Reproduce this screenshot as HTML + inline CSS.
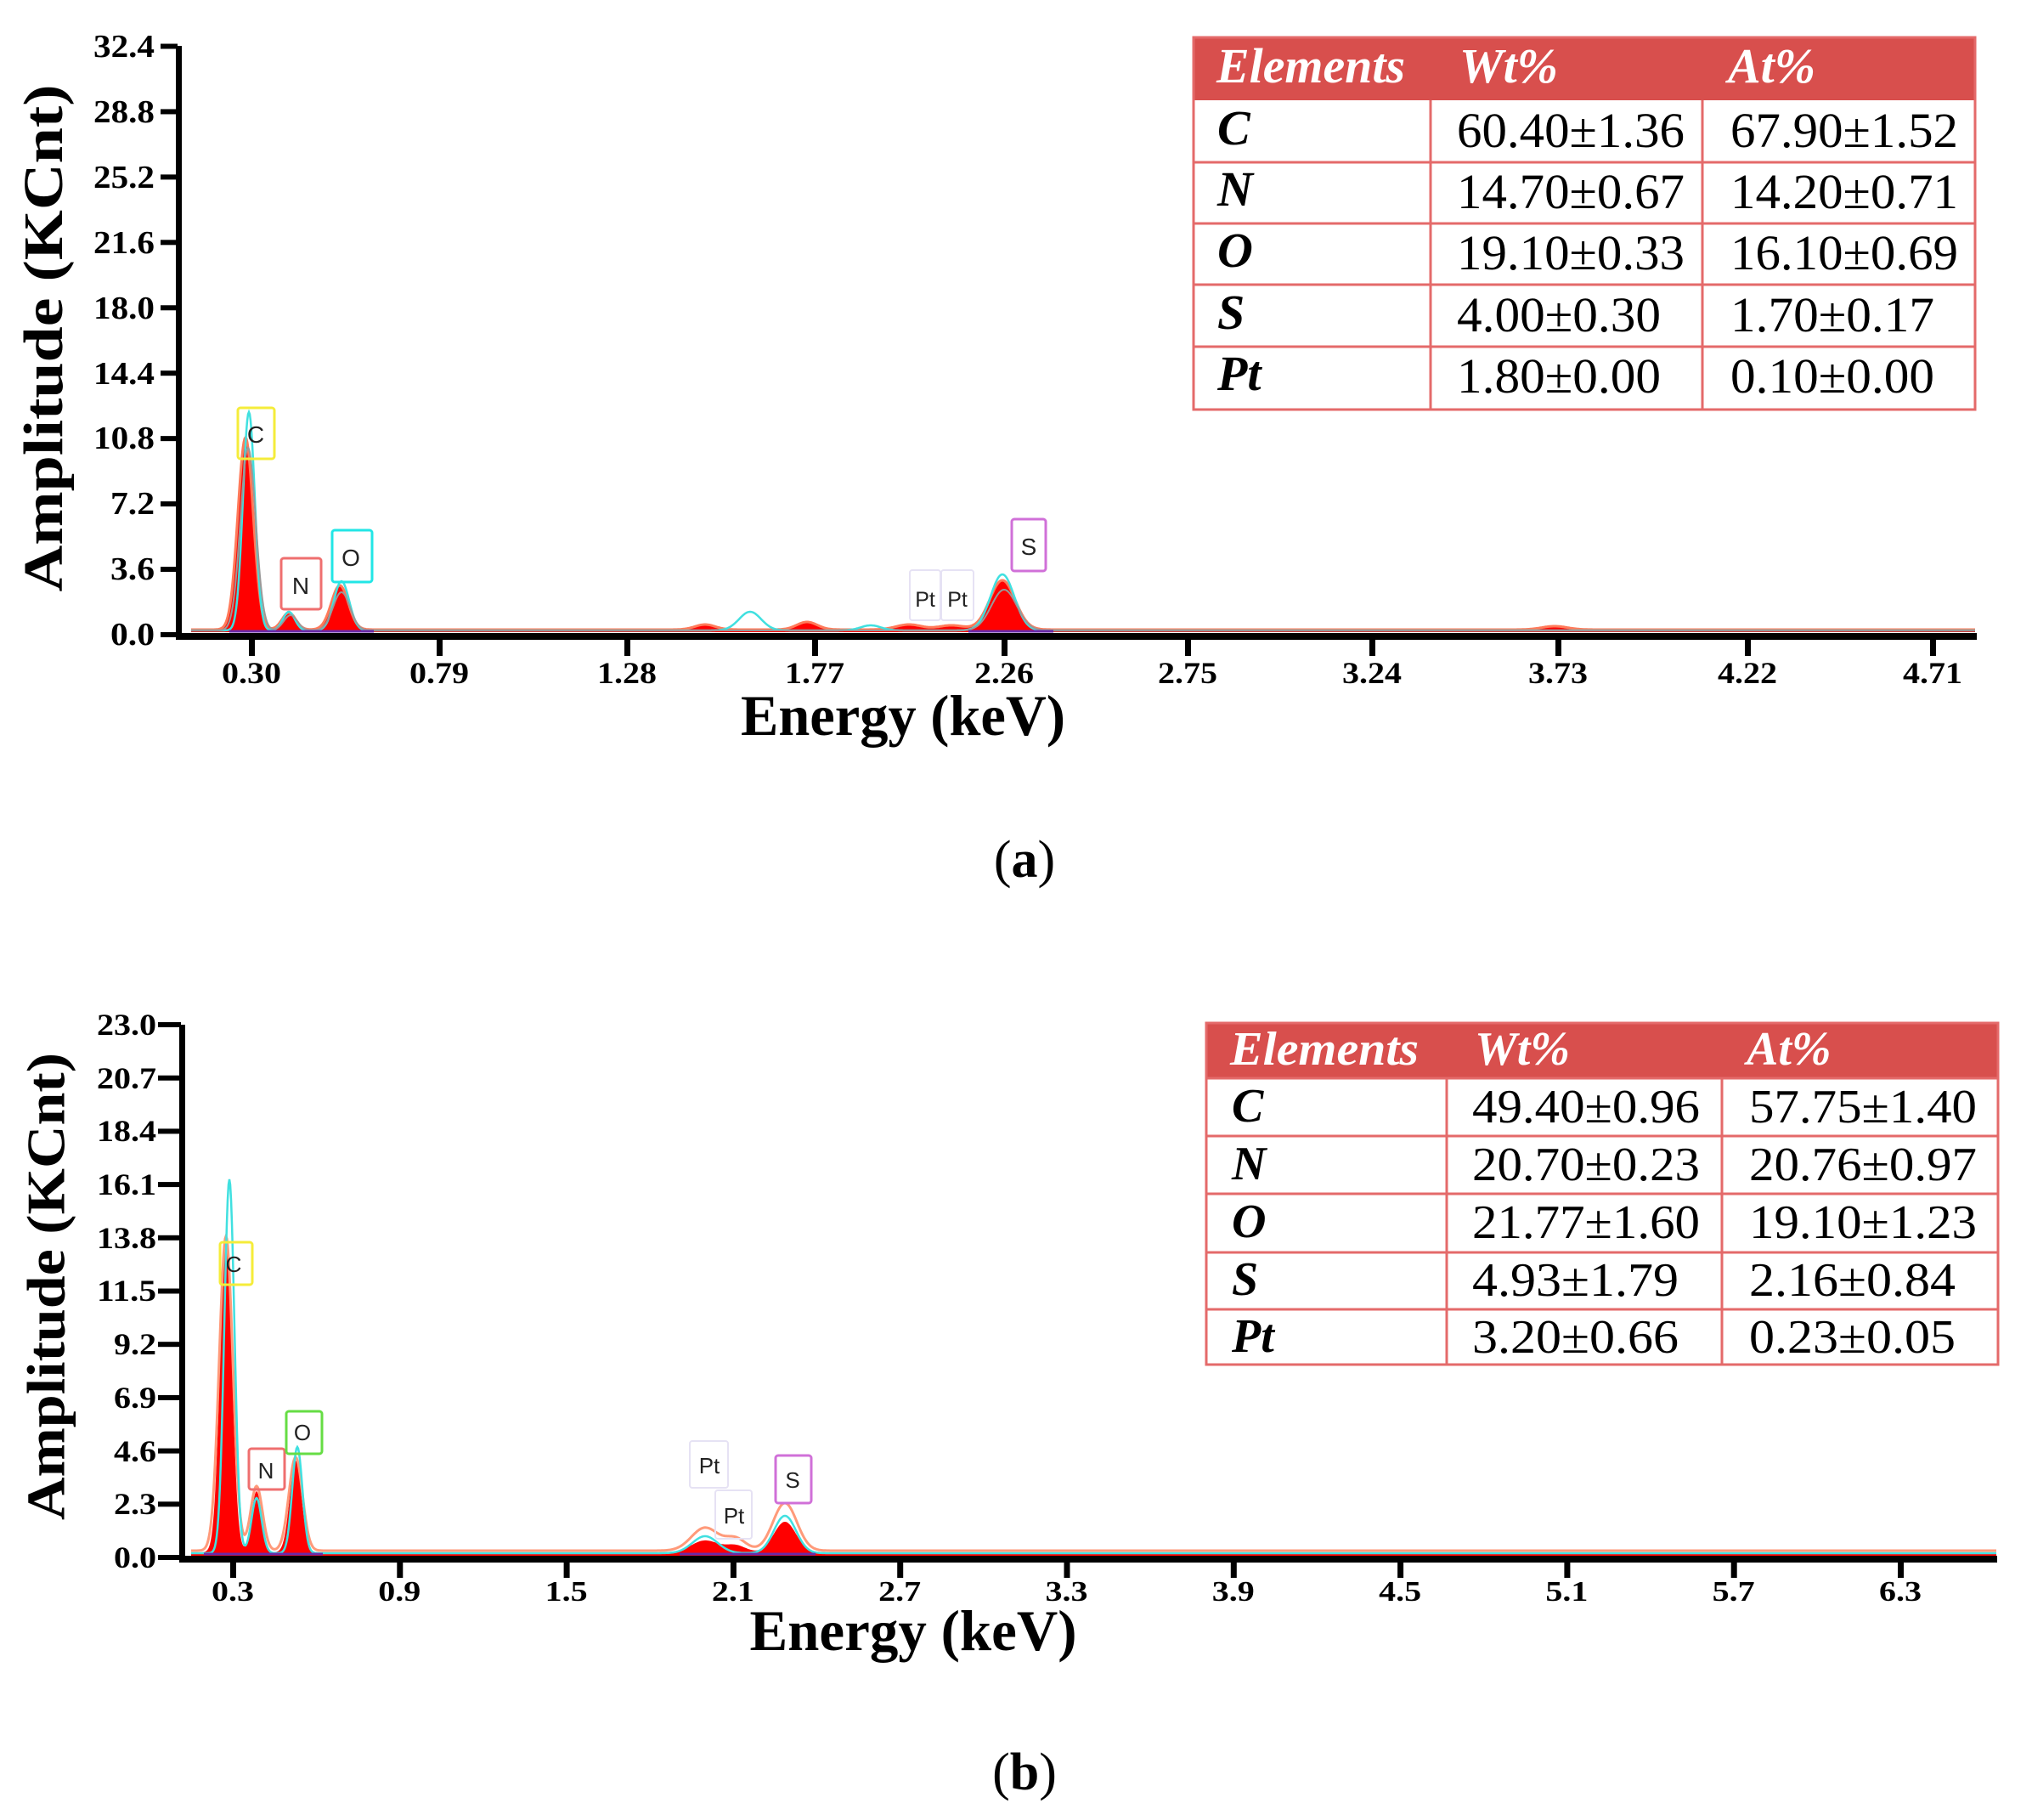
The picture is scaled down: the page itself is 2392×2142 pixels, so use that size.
<!DOCTYPE html>
<html><head><meta charset="utf-8"><style>
html,body{margin:0;padding:0;background:#fff;}
svg{display:block;}
text{font-family:"Liberation Serif",serif;}
text.sans{font-family:"Liberation Sans",sans-serif;}
</style></head><body>
<svg id="s" width="2392" height="2142" viewBox="0 0 2392 2142" xmlns="http://www.w3.org/2000/svg">
<g id="pa"></g>
<g id="pb"></g>
<!-- Panel a axes -->
<g fill="#000">
<rect x="207" y="54" width="7" height="698"/>
<rect x="207" y="745" width="2120" height="8"/>
</g>
<g font-weight="bold" font-size="38" text-anchor="end" fill="#000">
<text x="182" y="67" textLength="72" lengthAdjust="spacingAndGlyphs">32.4</text>
<text x="182" y="144" textLength="72" lengthAdjust="spacingAndGlyphs">28.8</text>
<text x="182" y="221" textLength="72" lengthAdjust="spacingAndGlyphs">25.2</text>
<text x="182" y="298" textLength="72" lengthAdjust="spacingAndGlyphs">21.6</text>
<text x="182" y="375" textLength="72" lengthAdjust="spacingAndGlyphs">18.0</text>
<text x="182" y="452" textLength="72" lengthAdjust="spacingAndGlyphs">14.4</text>
<text x="182" y="528" textLength="72" lengthAdjust="spacingAndGlyphs">10.8</text>
<text x="182" y="605" textLength="52" lengthAdjust="spacingAndGlyphs">7.2</text>
<text x="182" y="682" textLength="52" lengthAdjust="spacingAndGlyphs">3.6</text>
<text x="182" y="759" textLength="52" lengthAdjust="spacingAndGlyphs">0.0</text>
</g>
<g id="ayt"></g>
<g id="axt"></g>
<text x="58" y="398" font-weight="bold" font-size="66" fill="#000" text-anchor="middle" transform="rotate(-90 58 398)" dominant-baseline="middle" textLength="597" lengthAdjust="spacingAndGlyphs">Amplitude (KCnt)</text>
<text x="1063" y="865" font-weight="bold" font-size="68" fill="#000" text-anchor="middle" textLength="382" lengthAdjust="spacingAndGlyphs">Energy (keV)</text>
<text x="1206" y="1032" font-size="62" fill="#000" text-anchor="middle">(<tspan font-weight="bold">a</tspan>)</text>

<!-- Panel b axes -->
<g fill="#000">
<rect x="211" y="1206" width="7" height="632"/>
<rect x="211" y="1831" width="2140" height="8"/>
</g>
<g font-weight="bold" font-size="36" text-anchor="end" fill="#000">
<text x="184" y="1218" textLength="70" lengthAdjust="spacingAndGlyphs">23.0</text>
<text x="184" y="1281" textLength="70" lengthAdjust="spacingAndGlyphs">20.7</text>
<text x="184" y="1343" textLength="70" lengthAdjust="spacingAndGlyphs">18.4</text>
<text x="184" y="1406" textLength="70" lengthAdjust="spacingAndGlyphs">16.1</text>
<text x="184" y="1469" textLength="70" lengthAdjust="spacingAndGlyphs">13.8</text>
<text x="184" y="1531" textLength="70" lengthAdjust="spacingAndGlyphs">11.5</text>
<text x="184" y="1594" textLength="50" lengthAdjust="spacingAndGlyphs">9.2</text>
<text x="184" y="1657" textLength="50" lengthAdjust="spacingAndGlyphs">6.9</text>
<text x="184" y="1720" textLength="50" lengthAdjust="spacingAndGlyphs">4.6</text>
<text x="184" y="1782" textLength="50" lengthAdjust="spacingAndGlyphs">2.3</text>
<text x="184" y="1845" textLength="50" lengthAdjust="spacingAndGlyphs">0.0</text>
</g>
<g id="byt"></g>
<g id="bxt"></g>
<text x="61" y="1514" font-weight="bold" font-size="64" fill="#000" text-anchor="middle" transform="rotate(-90 61 1514)" dominant-baseline="middle" textLength="550" lengthAdjust="spacingAndGlyphs">Amplitude (KCnt)</text>
<text x="1075" y="1942" font-weight="bold" font-size="68" fill="#000" text-anchor="middle" textLength="385" lengthAdjust="spacingAndGlyphs">Energy (keV)</text>
<text x="1206" y="2106" font-size="62" fill="#000" text-anchor="middle">(<tspan font-weight="bold">b</tspan>)</text>

<!-- Table a -->
<g>
<rect x="1405" y="44" width="920" height="74" fill="#d84f4d"/>
<rect x="1405" y="44" width="920" height="438" fill="none" stroke="#e46a6a" stroke-width="3"/>
<g stroke="#e46a6a" stroke-width="3">
<line x1="1405" y1="191" x2="2325" y2="191"/><line x1="1405" y1="263" x2="2325" y2="263"/>
<line x1="1405" y1="335" x2="2325" y2="335"/><line x1="1405" y1="408" x2="2325" y2="408"/>
<line x1="1684" y1="118" x2="1684" y2="482"/><line x1="2004" y1="118" x2="2004" y2="482"/>
</g>
<g font-size="58" font-style="italic" font-weight="bold" fill="#fff">
<text x="1432" y="97" textLength="222" lengthAdjust="spacingAndGlyphs">Elements</text><text x="1718" y="97">Wt%</text><text x="2034" y="97">At%</text>
</g>
<g font-size="58" font-style="italic" font-weight="bold" fill="#000">
<text x="1433" y="170">C</text><text x="1433" y="242">N</text><text x="1433" y="314">O</text><text x="1433" y="387">S</text><text x="1433" y="459">Pt</text>
</g>
<g font-size="58" fill="#000">
<text x="1715" y="173" textLength="268" lengthAdjust="spacingAndGlyphs">60.40±1.36</text><text x="2037" y="173" textLength="268" lengthAdjust="spacingAndGlyphs">67.90±1.52</text>
<text x="1715" y="245" textLength="268" lengthAdjust="spacingAndGlyphs">14.70±0.67</text><text x="2037" y="245" textLength="268" lengthAdjust="spacingAndGlyphs">14.20±0.71</text>
<text x="1715" y="317" textLength="268" lengthAdjust="spacingAndGlyphs">19.10±0.33</text><text x="2037" y="317" textLength="268" lengthAdjust="spacingAndGlyphs">16.10±0.69</text>
<text x="1715" y="390" textLength="240" lengthAdjust="spacingAndGlyphs">4.00±0.30</text><text x="2037" y="390" textLength="240" lengthAdjust="spacingAndGlyphs">1.70±0.17</text>
<text x="1715" y="462" textLength="240" lengthAdjust="spacingAndGlyphs">1.80±0.00</text><text x="2037" y="462" textLength="240" lengthAdjust="spacingAndGlyphs">0.10±0.00</text>
</g>
</g>
<!-- Table b -->
<g>
<rect x="1420" y="1204" width="932" height="65" fill="#d84f4d"/>
<rect x="1420" y="1204" width="932" height="402" fill="none" stroke="#e46a6a" stroke-width="3"/>
<g stroke="#e46a6a" stroke-width="3">
<line x1="1420" y1="1269" x2="2352" y2="1269"/><line x1="1420" y1="1337" x2="2352" y2="1337"/>
<line x1="1420" y1="1405" x2="2352" y2="1405"/><line x1="1420" y1="1474" x2="2352" y2="1474"/>
<line x1="1420" y1="1541" x2="2352" y2="1541"/>
<line x1="1703" y1="1269" x2="1703" y2="1606"/><line x1="2027" y1="1269" x2="2027" y2="1606"/>
</g>
<g font-size="56" font-style="italic" font-weight="bold" fill="#fff">
<text x="1448" y="1253" textLength="222" lengthAdjust="spacingAndGlyphs">Elements</text><text x="1736" y="1253">Wt%</text><text x="2056" y="1253">At%</text>
</g>
<g font-size="56" font-style="italic" font-weight="bold" fill="#000">
<text x="1450" y="1320">C</text><text x="1450" y="1388">N</text><text x="1450" y="1456">O</text><text x="1450" y="1524">S</text><text x="1450" y="1591">Pt</text>
</g>
<g font-size="56" fill="#000">
<text x="1733" y="1321" textLength="268" lengthAdjust="spacingAndGlyphs">49.40±0.96</text><text x="2059" y="1321" textLength="268" lengthAdjust="spacingAndGlyphs">57.75±1.40</text>
<text x="1733" y="1389" textLength="268" lengthAdjust="spacingAndGlyphs">20.70±0.23</text><text x="2059" y="1389" textLength="268" lengthAdjust="spacingAndGlyphs">20.76±0.97</text>
<text x="1733" y="1457" textLength="268" lengthAdjust="spacingAndGlyphs">21.77±1.60</text><text x="2059" y="1457" textLength="268" lengthAdjust="spacingAndGlyphs">19.10±1.23</text>
<text x="1733" y="1525" textLength="243" lengthAdjust="spacingAndGlyphs">4.93±1.79</text><text x="2059" y="1525" textLength="243" lengthAdjust="spacingAndGlyphs">2.16±0.84</text>
<text x="1733" y="1592" textLength="243" lengthAdjust="spacingAndGlyphs">3.20±0.66</text><text x="2059" y="1592" textLength="243" lengthAdjust="spacingAndGlyphs">0.23±0.05</text>
</g>
</g>

<!-- element label boxes a -->
<g font-size="28" text-anchor="middle" fill="#222">
<rect x="280" y="480" width="43" height="60" fill="none" stroke="#f5ec3a" stroke-width="3" rx="3"/><text class="sans" x="301" y="521">C</text>
<rect x="331" y="657" width="47" height="60" fill="none" stroke="#ef6f6f" stroke-width="3" rx="3"/><text class="sans" x="354" y="699">N</text>
<rect x="391" y="624" width="47" height="61" fill="none" stroke="#22e6e6" stroke-width="3" rx="3"/><text class="sans" x="413" y="666">O</text>
<rect x="1071" y="671" width="36" height="59" fill="none" stroke="#e6e2f4" stroke-width="2" rx="3"/><text class="sans" x="1089" y="714" font-size="25">Pt</text>
<rect x="1108" y="671" width="38" height="59" fill="none" stroke="#e6e2f4" stroke-width="2" rx="3"/><text class="sans" x="1127" y="714" font-size="25">Pt</text>
<rect x="1191" y="611" width="40" height="61" fill="none" stroke="#d070d8" stroke-width="3" rx="3"/><text class="sans" x="1211" y="653">S</text>
</g>
<g font-size="26" text-anchor="middle" fill="#222">
<rect x="259" y="1462" width="38" height="50" fill="none" stroke="#f5ec3a" stroke-width="3" rx="3"/><text class="sans" x="275" y="1497">C</text>
<rect x="293" y="1705" width="42" height="48" fill="none" stroke="#ef6f6f" stroke-width="3" rx="3"/><text class="sans" x="313" y="1740">N</text>
<rect x="337" y="1661" width="42" height="50" fill="none" stroke="#66dd44" stroke-width="3" rx="3"/><text class="sans" x="356" y="1695">O</text>
<rect x="812" y="1696" width="45" height="55" fill="none" stroke="#e6e2f4" stroke-width="2" rx="3"/><text class="sans" x="835" y="1734">Pt</text>
<rect x="842" y="1754" width="43" height="57" fill="none" stroke="#e6e2f4" stroke-width="2" rx="3"/><text class="sans" x="864" y="1793">Pt</text>
<rect x="913" y="1713" width="42" height="56" fill="none" stroke="#d070d8" stroke-width="3" rx="3"/><text class="sans" x="933" y="1751">S</text>
</g>
</svg>
<script>
(function(){
var NS="http://www.w3.org/2000/svg";
function el(p,t,a){var e=document.createElementNS(NS,t);for(var k in a)e.setAttribute(k,a[k]);p.appendChild(e);return e;}
function curve(x0,x1,base,peaks,noise){
  var pts=[];for(var x=x0;x<=x1;x+=1){var y=noise;for(var i=0;i<peaks.length;i++){var p=peaks[i];var d=(x-p[0])/p[2];y+=p[1]*Math.exp(-0.5*d*d);}pts.push([x,base-y]);}
  return pts;}
function path(pts){return "M"+pts.map(function(p){return p[0].toFixed(1)+","+p[1].toFixed(1);}).join("L");}
var ga=document.getElementById("pa");
var baseA=744;
var redA=[[289,226,9],[340,20,8],[400,52,10],[1180,58,15],[830,6,12],[950,9,12],[1070,6,15],[1120,5,15],[1830,4,15]];
var pr=curve(225,2325,baseA,redA,3);
el(ga,"path",{d:path(pr)+"L2325,"+baseA+"L225,"+baseA+"Z",fill:"#ff0000"});
el(ga,"path",{d:path(pr),fill:"none",stroke:"#ff7a5a","stroke-width":3});
var cy=curve(225,2325,baseA,[[293,257,7],[340,22,7],[402,58,9],[1180,66,14],[883,22,13],[1025,6,12]],2);
el(ga,"path",{d:path(cy),fill:"none",stroke:"#40e0e0","stroke-width":2.5});
var gr=curve(225,2325,baseA,[[292,215,9],[342,18,8],[402,45,10],[1182,48,15]],2);
el(ga,"path",{d:path(gr),fill:"none",stroke:"#999","stroke-width":2});
el(ga,"line",{x1:270,y1:baseA-1,x2:440,y2:baseA-1,stroke:"#6a2aa8","stroke-width":3});
el(ga,"line",{x1:1140,y1:baseA-1,x2:1240,y2:baseA-1,stroke:"#6a2aa8","stroke-width":3});
var gb=document.getElementById("pb");
var baseB=1831;
var redB=[[266,370,7],[302,72,6],[348,108,7],[830,14,16],[866,8,12],[924,36,13]];
var pb=curve(225,2350,baseB,redB,4);
el(gb,"path",{d:path(pb)+"L2350,"+baseB+"L225,"+baseB+"Z",fill:"#ff0000"});
var ob=curve(225,2350,baseB,[[266,370,8],[302,76,7],[348,110,8],[830,27,16],[866,14,12],[924,56,14]],6);
el(gb,"path",{d:path(ob),fill:"none",stroke:"#ff9a7a","stroke-width":3});
var cb=curve(225,2350,baseB,[[270,440,6],[302,65,6],[350,125,6],[830,20,15],[924,44,13]],3);
el(gb,"path",{d:path(cb),fill:"none",stroke:"#40e0e0","stroke-width":2.5});
el(gb,"line",{x1:240,y1:baseB-2,x2:380,y2:baseB-2,stroke:"#6a2aa8","stroke-width":3});
el(gb,"line",{x1:800,y1:baseB-2,x2:960,y2:baseB-2,stroke:"#6a2aa8","stroke-width":3});
var ayt=document.getElementById("ayt");
for(var i=0;i<10;i++){var y=54.5+i*76.94;el(ayt,"rect",{x:189,y:y-3,width:20,height:6,fill:"#000"});}
var axt=document.getElementById("axt");
var la=["0.30","0.79","1.28","1.77","2.26","2.75","3.24","3.73","4.22","4.71"];
var xa=[296,517,738,959,1182,1398,1615,1834,2057,2275];
for(var i=0;i<la.length;i++){el(axt,"rect",{x:xa[i]-3,y:748,width:7,height:24,fill:"#000"});
 var t=el(axt,"text",{x:xa[i],y:804,"font-size":36,"font-weight":"bold","text-anchor":"middle",textLength:70,lengthAdjust:"spacingAndGlyphs"});t.textContent=la[i];}
var byt=document.getElementById("byt");
for(var i=0;i<11;i++){var y=1206+i*62.7;el(byt,"rect",{x:186,y:y-3,width:27,height:6,fill:"#000"});}
var bxt=document.getElementById("bxt");
var lb=["0.3","0.9","1.5","2.1","2.7","3.3","3.9","4.5","5.1","5.7","6.3"];
for(var i=0;i<lb.length;i++){var x=274+i*196.3;el(bxt,"rect",{x:x-3,y:1835,width:7,height:22,fill:"#000"});
 var t=el(bxt,"text",{x:x,y:1884,"font-size":34,"font-weight":"bold","text-anchor":"middle",textLength:50,lengthAdjust:"spacingAndGlyphs"});t.textContent=lb[i];}
})();
</script>
</body></html>
